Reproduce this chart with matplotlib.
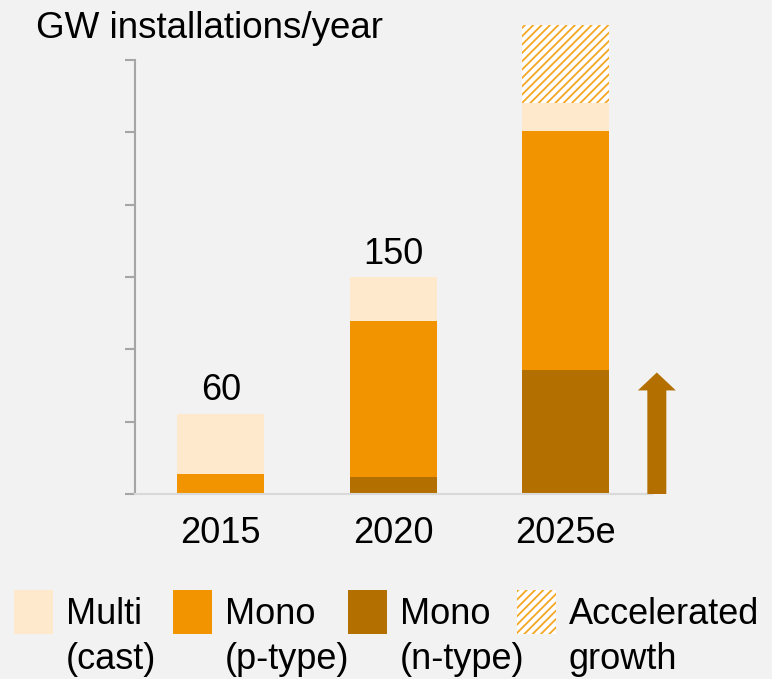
import matplotlib.pyplot as plt
from matplotlib.patches import Rectangle, FancyArrow

plt.rcParams['font.family'] = ['Liberation Sans', 'DejaVu Sans']
plt.rcParams['hatch.linewidth'] = 1.3

years = ['2015', '2020', '2025e']
mono_n = [0, 11.8, 86]
mono_p = [13.8, 108, 165]
multi = [41.5, 30, 19]
accel = [0, 0, 54]
total_labels = ['60', '150', '']

legend_labels = ['Multi\n(cast)', 'Mono\n(p-type)', 'Mono\n(n-type)', 'Accelerated\ngrowth']

c_multi = '#FFE9CC'
c_mono_p = '#F29400'
c_mono_n = '#B36F00'
c_hatch = '#F5A623'
bg = '#F2F2F2'

arrow_len = 84

W, H = 772, 679
fig = plt.figure(figsize=(W / 100, H / 100), dpi=100, facecolor=bg)
ax = fig.add_axes([134.5 / W, (H - 494) / H, 517.5 / W, 477.4 / H])
ax.set_facecolor(bg)

x = list(range(len(years)))
bw = 0.504
b1 = [a + b for a, b in zip(mono_n, mono_p)]
b2 = [a + b for a, b in zip(b1, multi)]
ax.bar(x, mono_n, bw, color=c_mono_n, zorder=2)
ax.bar(x, mono_p, bw, bottom=mono_n, color=c_mono_p, zorder=2)
ax.bar(x, multi, bw, bottom=b1, color=c_multi, zorder=2)
ax.bar(x, accel, bw, bottom=b2, color='white', edgecolor=c_hatch,
       hatch='////', linewidth=0, zorder=2)

tops = [a + b for a, b in zip(b2, accel)]
for xi, t, lab in zip(x, tops, total_labels):
    if lab:
        ax.annotate(lab, (xi, t), xytext=(0, 4), textcoords='offset points',
                    ha='center', va='bottom', fontsize=26)

# Pfeil rechts neben 2025e
ax.add_patch(FancyArrow(2.528, 0, 0, arrow_len, width=0.11, head_width=0.22,
                        head_length=12.4, length_includes_head=True,
                        color=c_mono_n, linewidth=0, clip_on=False, zorder=3))

ax.set_xlim(-0.5, 2.5)
ax.set_ylim(0, 330)
ax.set_yticks(range(0, 301, 50))
ax.set_yticklabels([])
ax.set_xticks(x)
ax.set_xticklabels(years, fontsize=26)
ax.tick_params(axis='x', length=0, pad=16)
ax.tick_params(axis='y', length=7, width=1.5, color='#A6A6A6')
for s in ['top', 'right']:
    ax.spines[s].set_visible(False)
ax.spines['left'].set_bounds(0, 300)
ax.spines['left'].set_color('#A6A6A6')
ax.spines['left'].set_linewidth(1.5)
ax.spines['bottom'].set_color('#D9D9D9')
ax.spines['bottom'].set_linewidth(1.5)

fig.text(36 / W, 1 - 28 / H, 'GW installations/year', fontsize=26.5, va='center', ha='left')

# Legende
patch_x = [14, 173, 348, 517]
colors = [c_multi, c_mono_p, c_mono_n, 'white']
for px, col, lab in zip(patch_x, colors, legend_labels):
    hatched = lab.startswith('Accel')
    r = Rectangle((px / W, 1 - 634 / H), 39 / W, 44 / H, transform=fig.transFigure,
                  facecolor=col, edgecolor=c_hatch if hatched else col,
                  hatch='////' if hatched else None, linewidth=0)
    fig.add_artist(r)
    fig.text((px + 52) / W, 1 - 637 / H, lab, fontsize=26, va='center',
             ha='left', linespacing=1.4)

fig.savefig('out.png', dpi=100, facecolor=bg)
